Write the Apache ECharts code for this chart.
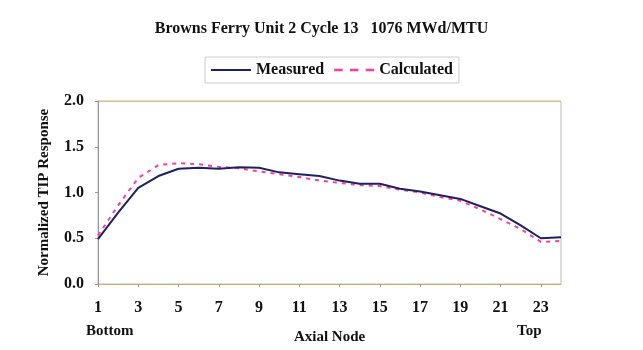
<!DOCTYPE html>
<html><head><meta charset="utf-8">
<script src="https://cdn.jsdelivr.net/npm/echarts@6/dist/echarts.min.js"></script>
<style>html,body{margin:0;padding:0;background:#fff}#c{width:643px;height:350px}</style>
</head><body><div id="c"></div>
<script>
var nodes = ['1','2','3','4','5','6','7','8','9','10','11','12','13','14','15','16','17','18','19','20','21','22','23','24'];
var measured = [0.49,0.78,1.05,1.18,1.26,1.27,1.26,1.275,1.27,1.22,1.20,1.18,1.13,1.095,1.095,1.04,1.01,0.97,0.93,0.85,0.77,0.64,0.50,0.51];
var calculated = [0.53,0.86,1.16,1.30,1.32,1.31,1.28,1.265,1.23,1.20,1.17,1.13,1.105,1.08,1.07,1.03,1.00,0.95,0.91,0.815,0.71,0.60,0.46,0.47];
var yTicks = [0, 0.5, 1.0, 1.5, 2.0];
var F = '"Liberation Serif","DejaVu Serif",serif';
var chart = echarts.init(document.getElementById('c'));
chart.setOption({
  animation: false,
  title: {text: 'Browns Ferry Unit 2 Cycle 13   1076 MWd/MTU', left: 'center', top: 16,
    textStyle: {fontFamily: F, fontSize: 16, fontWeight: 'bold', color: '#111'}},
  legend: {top: 57, left: 205, itemWidth: 40, itemHeight: 10, itemGap: 10,
    borderColor: '#ccc', borderWidth: 1, padding: [5, 6, 5, 6],
    textStyle: {fontFamily: F, fontSize: 16, fontWeight: 'bold', color: '#111'},
    data: [{name: 'Measured', icon: 'path://M0,4 L40,4 L40,6 L0,6 Z'},
           {name: 'Calculated', icon: 'path://M4,4h7v2h-7z M17,4h7v2h-7z M30,4h7v2h-7z'}]},
  grid: {left: 98, right: 82, top: 101, bottom: 65, show: true, borderColor: '#bbb', borderWidth: 1},
  graphic: [
    {type: 'text', left: 86, top: 324, style: {text: 'Bottom', font: 'bold 15px ' + F, fill: '#111'}},
    {type: 'text', left: 517, top: 324, style: {text: 'Top', font: 'bold 15px ' + F, fill: '#111'}},
    {type: 'line', shape: {x1: 98, y1: 101.5, x2: 561, y2: 101.5}, style: {stroke: '#e0c070', lineWidth: 1}}
  ],
  xAxis: {type: 'category', data: nodes, boundaryGap: false,
    name: 'Axial Node', nameLocation: 'middle', nameGap: 46,
    nameTextStyle: {fontFamily: F, fontSize: 15, fontWeight: 'bold', color: '#111'},
    axisLine: {lineStyle: {color: '#c8b070', width: 1}},
    axisTick: {interval: 1, length: 3, inside: false, lineStyle: {color: '#999'}},
    axisLabel: {interval: 1, margin: 16, fontFamily: F, fontSize: 16, fontWeight: 'bold', color: '#111'},
    splitLine: {show: false}},
  yAxis: {type: 'value', min: 0, max: 2, interval: 0.5,
    name: 'Normalized TIP Response', nameLocation: 'middle', nameGap: 46,
    nameTextStyle: {fontFamily: F, fontSize: 15, fontWeight: 'bold', color: '#111'},
    axisLine: {show: true, lineStyle: {color: '#999'}},
    axisTick: {show: true, length: 3, lineStyle: {color: '#999'}},
    axisLabel: {margin: 14, fontFamily: F, fontSize: 16, fontWeight: 'bold', color: '#111',
      formatter: function (v) { return yTicks.indexOf(v) >= 0 ? v.toFixed(1) : ''; }},
    splitLine: {show: false}},
  series: [
    {name: 'Measured', type: 'line', data: measured, symbol: 'none', z: 3,
      itemStyle: {color: '#1c2160'}, lineStyle: {color: '#1c2160', width: 2}},
    {name: 'Calculated', type: 'line', data: calculated, symbol: 'none', z: 2,
      itemStyle: {color: '#ff3d9a'}, lineStyle: {color: '#ff3d9a', width: 2, type: [4, 5]}}
  ]
});
</script></body></html>
